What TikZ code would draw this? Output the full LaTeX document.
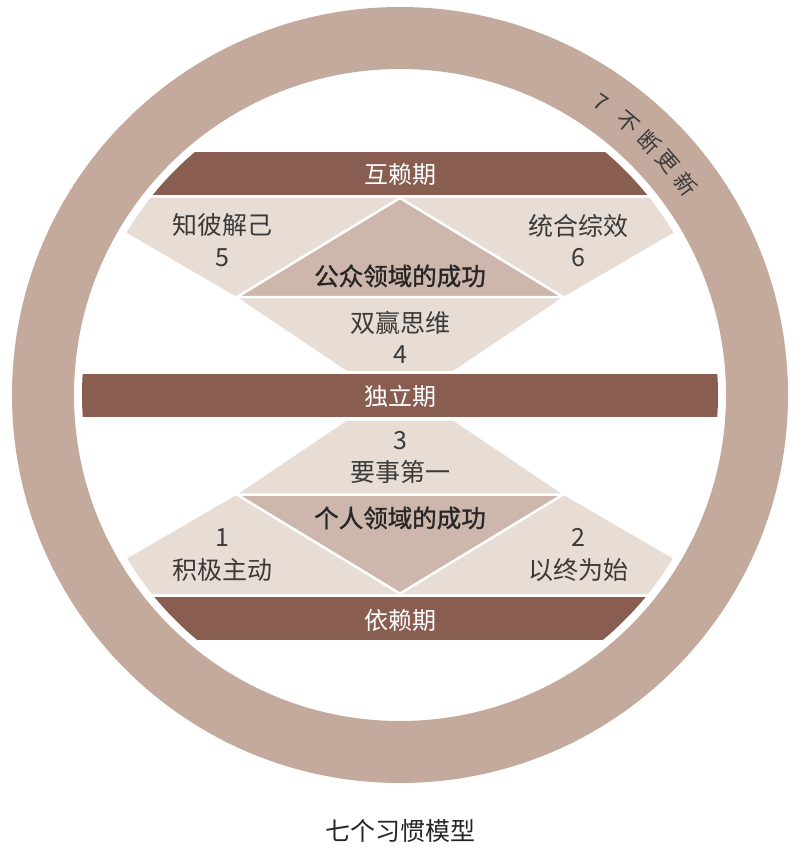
\documentclass[tikz,border=0pt]{standalone}
\usepackage{fontspec}
\newfontfamily\cjk{Noto Sans CJK SC}
\newfontfamily\cjkmed[FakeBold=1.2]{Noto Sans CJK SC}
\definecolor{ringc}{HTML}{C4A99D}
\definecolor{bandc}{HTML}{8A5D51}
\definecolor{lightc}{HTML}{E8DDD5}
\definecolor{midc}{HTML}{CDB6AC}
\definecolor{txtc}{HTML}{3A3A3A}
\tikzset{
  lbl/.style={inner sep=0pt, font=\cjk\fontsize{25}{28}\selectfont, text=txtc},
  bandlbl/.style={inner sep=0pt, font=\cjk\fontsize{24}{28}\selectfont, text=white},
  boldlbl/.style={inner sep=0pt, font=\cjkmed\fontsize{24.5}{28}\selectfont, text=black!85},
  ringlbl/.style={inner sep=0pt, font=\cjk\fontsize{22}{26}\selectfont, text=txtc},
  sep/.style={draw=white, line width=2.5pt, line join=miter}
}
\begin{document}
\begin{tikzpicture}[x=1pt,y=-1pt]
\useasboundingbox (0,0) rectangle (800,848);
% ring
\fill[ringc, even odd rule] (400,395) circle (388pt) (400,395) circle (326pt);
\begin{scope}
\clip (400,395) circle (318pt);
% top section
\fill[bandc] (0,152) rectangle (800,195);
\fill[lightc] (66,197.5) -- (734,197.5) -- (563,297) -- (453,371) -- (347,371) -- (237,297) -- cycle;
\filldraw[fill=midc, sep] (400,198) -- (563,297) -- (237,297) -- cycle;
% middle band
\fill[bandc] (0,374.3) rectangle (800,417.3);
% bottom section
\fill[bandc] (0,596.6) rectangle (800,639.6);
\fill[lightc] (66,594.1) -- (734,594.1) -- (563,494.6) -- (453,420.6) -- (347,420.6) -- (237,494.6) -- cycle;
\filldraw[fill=midc, sep] (400,593.6) -- (563,494.6) -- (237,494.6) -- cycle;
\end{scope}
% band labels
\node[bandlbl] (hl) at (400,174) {互赖期};
\node[bandlbl] (dl) at (400,396) {独立期};
\node[bandlbl] (yl) at (400,620) {依赖期};
% top section labels
\node[lbl] (t5) at (222.5,225.5) {知彼解己};
\node[lbl] (n5) at (222.5,257.5) {5};
\node[lbl] (t6) at (578,225.5) {统合综效};
\node[lbl] (n6) at (578,257.5) {6};
\node[boldlbl] (pub) at (400,276) {公众领域的成功};
\node[lbl] (t4) at (400,323.3) {双赢思维};
\node[lbl] (n4) at (400,355) {4};
% bottom section labels
\node[lbl] (n3) at (400,440.5) {3};
\node[lbl] (t3) at (400,472) {要事第一};
\node[boldlbl] (pri) at (400,518) {个人领域的成功};
\node[lbl] (n1) at (222.5,537.5) {1};
\node[lbl] (t1) at (222.5,570) {积极主动};
\node[lbl] (n2) at (578,537.5) {2};
\node[lbl] (t2) at (578,570) {以终为始};
% ring text
\foreach \ch/\a [count=\i] in {7/55.6, 不/50.0, 断/45.5, 更/41.0, 新/36.5}
  \node[ringlbl, rotate=\a-90] (r\i) at ({400+355*cos(\a)},{395-355*sin(\a)}) {\ch};
% caption
\node[inner sep=0pt, font=\cjk\fontsize{25}{28}\selectfont, text=black!85] (cap) at (400,831) {七个习惯模型};
\end{tikzpicture}
\end{document}
